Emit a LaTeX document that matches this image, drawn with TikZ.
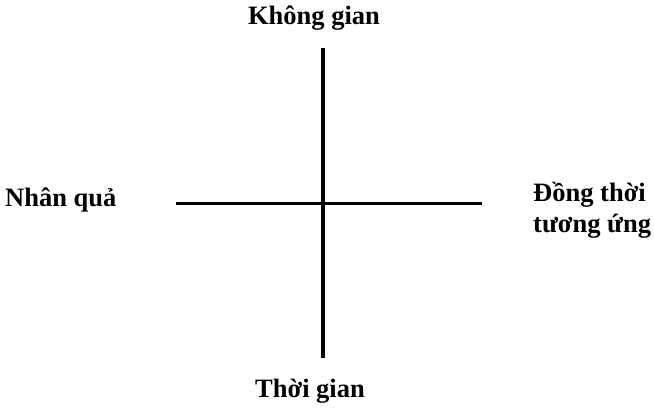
\documentclass[tikz,border=0pt]{standalone}
\usepackage{fontspec}
\setmainfont{Liberation Serif}
\begin{document}
\begin{tikzpicture}[x=1pt,y=-1pt,
  lbl/.style={font=\fontsize{26.5}{30}\selectfont\bfseries, inner sep=0pt, anchor=base},
  axis/.style={line width=3.5pt, black}]
\useasboundingbox (0,0) rectangle (654,411);
\coordinate (top) at (323,48);
\coordinate (bot) at (323,358);
\coordinate (lft) at (176,204);
\coordinate (rgt) at (482,204);
\draw[axis] (top) -- (bot);
\draw[axis, line width=3pt] (lft) -- (rgt);
\node[lbl] (space) at (314,25) {Không gian};
\node[lbl] (time) at (310,398) {Thời gian};
\node[lbl, anchor=base west] (cause) at (5,207) {Nhân quả};
\node[lbl, anchor=base west] (sync1) at (533,202) {Đồng thời};
\node[lbl, anchor=base west] (sync2) at (533,233) {tương ứng};
\end{tikzpicture}
\end{document}
